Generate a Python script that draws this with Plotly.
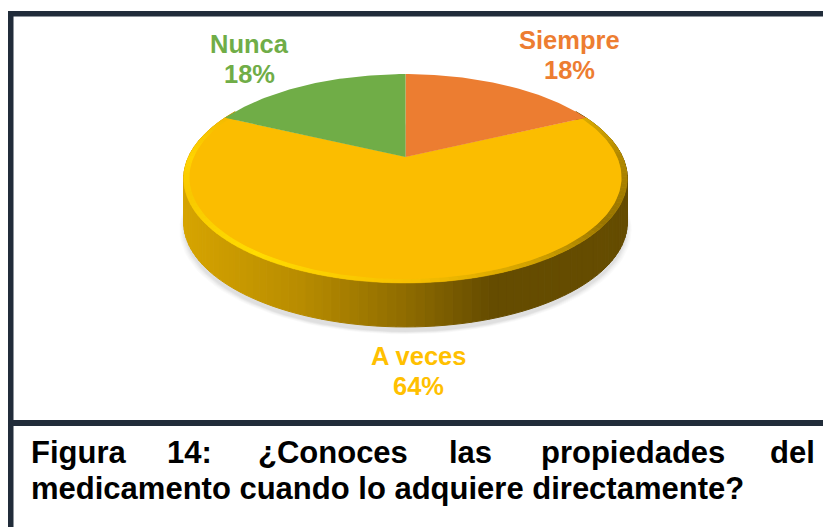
import math
import plotly.graph_objects as go

# Data
categories = ["Siempre", "A veces", "Nunca"]
values = [18, 64, 18]
caption_line1 = ["Figura", "14:", "¿Conoces", "las", "propiedades", "del"]
caption_line2 = "medicamento cuando lo adquiere directamente?"

# Styles / layout
COLORS = {"Siempre": "#ec7d31", "A veces": "#fbbd00", "Nunca": "#70ad47"}
LABEL_COLORS = {"Siempre": "#ed7d31", "A veces": "#ffc000", "Nunca": "#70ad47"}
LABEL_POS = {"Siempre": (569, 40), "A veces": (418, 356), "Nunca": (249, 44)}
LINE_GAP = 30
CAPTION_X = [31, 167, 258, 449, 541, 770]
W, H = 823, 527
CX, AY, A, B, K = 405.5, 157.0, 217.0, 100.0, 0.206
DEPTH = 44
FONT = "Liberation Sans, Arial, sans-serif"


def proj(deg, r=1.0):
    t = math.radians(deg)
    u, v = r * math.sin(t), r * math.cos(t)
    w = 1 + K * v
    return CX + A * u / w, AY - B * v / w


def hex2rgb(h):
    return tuple(int(h[i:i + 2], 16) for i in (1, 3, 5))


def ramp(x, stops):
    if x <= stops[0][0]:
        return stops[0][1]
    for (x0, c0), (x1, c1) in zip(stops, stops[1:]):
        if x <= x1:
            f = (x - x0) / (x1 - x0)
            a, b = hex2rgb(c0), hex2rgb(c1)
            return "#%02x%02x%02x" % tuple(round(p + (q - p) * f) for p, q in zip(a, b))
    return stops[-1][1]


WALL = [(184, "#d6a400"), (300, "#b88c00"), (405, "#8f6c00"), (490, "#654c00"), (627, "#654c00")]
RIM = [(65, "#d8aa00"), (90, "#b08800"), (125, "#987400"), (150, "#cfa000"), (178, "#f7bf00"),
       (215, "#ffdc00"), (250, "#f8c800"), (270, "#ffd400"), (295, "#f4bb00")]

fig = go.Figure()


def poly(pts, color, lw=0.0):
    xs = [p[0] for p in pts] + [pts[0][0]]
    ys = [p[1] for p in pts] + [pts[0][1]]
    fig.add_trace(go.Scatter(x=xs, y=ys, mode="lines", fill="toself", fillcolor=color,
                             line=dict(color=color, width=lw), hoverinfo="skip", showlegend=False))


# soft shadow
for grow, alpha in [(1.02, 0.018), (1.015, 0.02), (1.01, 0.025), (1.005, 0.03), (1.0, 0.03)]:
    poly([(CX + (x - CX) * grow, y + DEPTH + 5 + (grow - 1) * 120)
          for x, y in (proj(d) for d in range(0, 360, 3))], f"rgba(0,0,0,{alpha})")

# side wall
for d in range(60, 300, 2):
    x0, y0 = proj(d)
    x1, y1 = proj(d + 2)
    poly([(x0, y0), (x1, y1), (x1, y1 + DEPTH), (x0, y0 + DEPTH)], ramp((x0 + x1) / 2, WALL), 1)

# top face: slices laid out clockwise from 12 o'clock
total = sum(values)
start = 0.0
spans = {}
for cat, val in zip(categories, values):
    spans[cat] = (start, start + val / total * 360)
    start = spans[cat][1]


def sector(cat, r=1.0):
    s, e = spans[cat]
    n = max(2, int(e - s))
    return [(CX, AY)] + [proj(s + (e - s) * i / n, r) for i in range(n + 1)]


poly(sector("A veces"), COLORS["A veces"])
s, e = spans["A veces"]
d = s
while d < e:
    nxt = min(d + 2, e)
    poly([proj(d), proj(nxt), proj(nxt, 0.975), proj(d, 0.975)], ramp((d + nxt) / 2, RIM), 0.5)
    d = nxt
poly(sector("A veces", 0.975), COLORS["A veces"])
poly(sector("Siempre"), COLORS["Siempre"])
poly(sector("Nunca"), COLORS["Nunca"])

# labels
annotations = []
for cat, val in zip(categories, values):
    x, y = LABEL_POS[cat]
    for text, yy in ((cat, y), (f"{val}%", y + LINE_GAP)):
        annotations.append(dict(x=x, y=yy, xref="x", yref="y", showarrow=False,
                                text=f"<b>{text}</b>",
                                font=dict(family=FONT, size=25.5, color=LABEL_COLORS[cat])))
for word, x in zip(caption_line1, CAPTION_X):
    annotations.append(dict(x=x, y=452, xref="x", yref="y", xanchor="left", showarrow=False,
                            xshift=-2, text=f"<b>{word}</b>",
                            font=dict(family=FONT, size=31, color="#000000")))
annotations.append(dict(x=31, y=488, xref="x", yref="y", xanchor="left", showarrow=False,
                        xshift=-2, text=f"<b>{caption_line2}</b>",
                        font=dict(family=FONT, size=31, color="#000000")))

FRAME = "#212c3a"
shapes = [
    dict(type="rect", x0=8, x1=W, y0=11, y1=16.5, fillcolor=FRAME, line_width=0, layer="below"),
    dict(type="rect", x0=8, x1=13.5, y0=11, y1=H, fillcolor=FRAME, line_width=0, layer="below"),
    dict(type="rect", x0=8, x1=W, y0=420, y1=426, fillcolor=FRAME, line_width=0, layer="below"),
]

fig.update_layout(
    width=W, height=H, margin=dict(l=0, r=0, t=0, b=0),
    paper_bgcolor="white", plot_bgcolor="white", showlegend=False,
    xaxis=dict(range=[0, W], visible=False, fixedrange=True),
    yaxis=dict(range=[H, 0], visible=False, fixedrange=True),
    annotations=annotations, shapes=shapes,
)
fig.write_html("out.html", config={"displayModeBar": False},
               post_script="document.body.style.margin='0';document.body.style.overflow='hidden';")
